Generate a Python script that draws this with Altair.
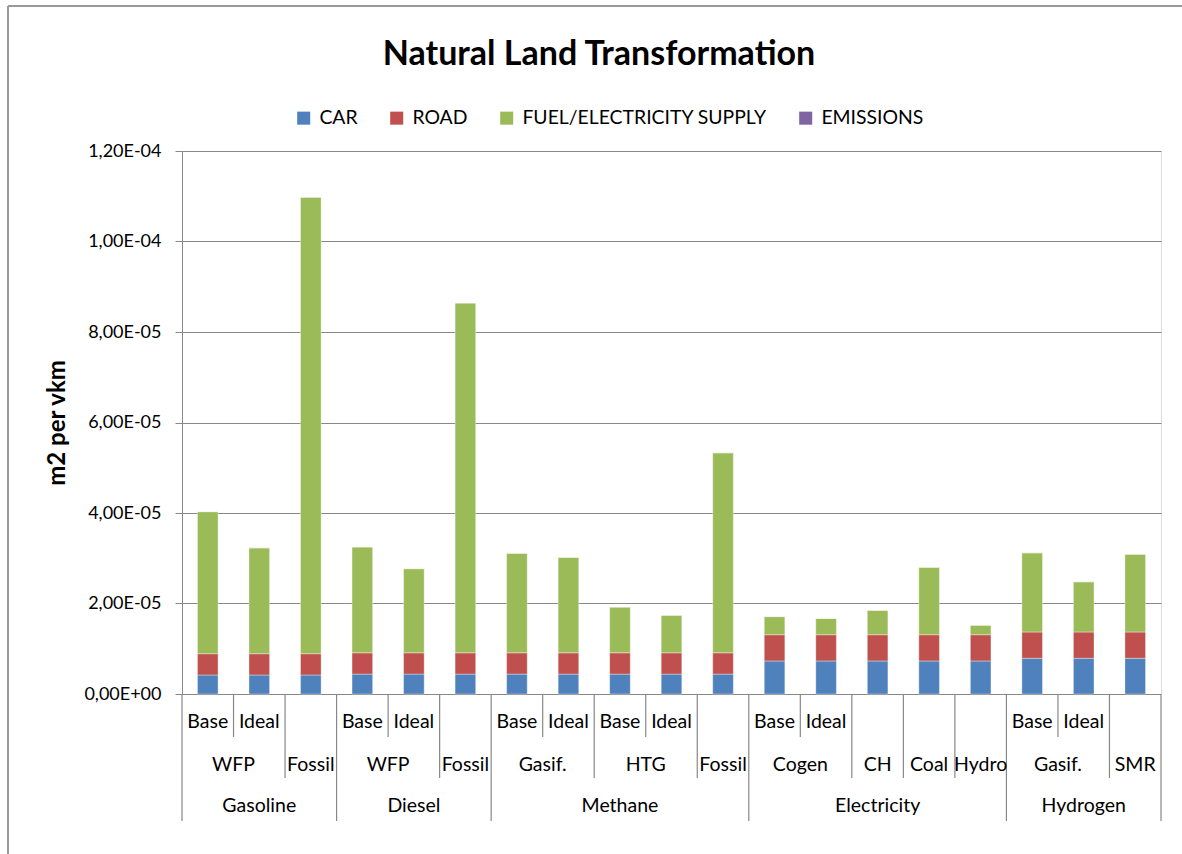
import altair as alt
import pandas as pd

# ---------------- data ----------------
chart_title = "Natural Land Transformation"
fuels = ["Gasoline"] * 3 + ["Diesel"] * 3 + ["Methane"] * 5 + ["Electricity"] * 5 + ["Hydrogen"] * 3
paths = ["WFP", "WFP", "Fossil",
         "WFP", "WFP", "Fossil",
         "Gasif.", "Gasif.", "HTG", "HTG", "Fossil",
         "Cogen", "Cogen", "CH", "Coal", "Hydro",
         "Gasif.", "Gasif.", "SMR"]
variants = ["Base", "Ideal", "",
            "Base", "Ideal", "",
            "Base", "Ideal", "Base", "Ideal", "",
            "Base", "Ideal", "", "", "",
            "Base", "Ideal", ""]

car = [0.42e-5, 0.42e-5, 0.42e-5,
       0.44e-5, 0.44e-5, 0.44e-5,
       0.44e-5, 0.44e-5, 0.44e-5, 0.44e-5, 0.44e-5,
       0.73e-5, 0.73e-5, 0.73e-5, 0.73e-5, 0.73e-5,
       0.79e-5, 0.79e-5, 0.79e-5]
road = [0.47e-5, 0.47e-5, 0.47e-5,
        0.47e-5, 0.47e-5, 0.47e-5,
        0.47e-5, 0.47e-5, 0.47e-5, 0.47e-5, 0.47e-5,
        0.58e-5, 0.58e-5, 0.58e-5, 0.58e-5, 0.58e-5,
        0.58e-5, 0.58e-5, 0.58e-5]
fuel_supply = [3.14e-5, 2.34e-5, 10.09e-5,
               2.34e-5, 1.86e-5, 7.73e-5,
               2.20e-5, 2.11e-5, 1.01e-5, 0.83e-5, 4.42e-5,
               0.40e-5, 0.36e-5, 0.54e-5, 1.49e-5, 0.21e-5,
               1.75e-5, 1.11e-5, 1.72e-5]
emissions = [0.0] * 19

series_names = ["CAR", "ROAD", "FUEL/ELECTRICITY SUPPLY", "EMISSIONS"]
series_colors = ["#4F81BD", "#C0504D", "#9BBB59", "#8064A2"]

y_ticks = [0, 2e-5, 4e-5, 6e-5, 8e-5, 1e-4, 1.2e-4]
y_tick_labels = ["0,00E+00", "2,00E-05", "4,00E-05", "6,00E-05", "8,00E-05", "1,00E-04", "1,20E-04"]

FONT = "Lato"
GRID = "#888888"
W, H = 979, 543
N = len(fuels)

# ---------------- tables ----------------
rows = []
for i in range(N):
    for k, (name, vals) in enumerate(zip(series_names, [car, road, fuel_supply, emissions])):
        rows.append({"idx": i, "series": name, "value": vals[i], "order": k})
bars_df = pd.DataFrame(rows)


def runs(keys):
    out = []
    start = 0
    for i in range(1, len(keys) + 1):
        if i == len(keys) or keys[i] != keys[start]:
            out.append((start, i, keys[start]))
            start = i
    return out


labels = []
for i, v in enumerate(variants):
    if v:
        labels.append({"xc": i + 0.5, "label": v, "row": 1})
for s, e, key in runs(list(zip(fuels, paths))):
    labels.append({"xc": (s + e) / 2, "label": key[1], "row": 2})
for s, e, key in runs(fuels):
    labels.append({"xc": (s + e) / 2, "label": key, "row": 3})
labels_df = pd.DataFrame(labels)

divs = []
for b in range(N + 1):
    if b == 0 or b == N or fuels[b] != fuels[b - 1]:
        lvl = 3
    elif paths[b] != paths[b - 1]:
        lvl = 2
    else:
        lvl = 1
    divs.append({"xb": b, "level": lvl})
divs_df = pd.DataFrame(divs)

xscale = alt.Scale(domain=[0, N], nice=False, zero=False, padding=0)
label_expr = "[" + ",".join("'%s'" % t for t in y_tick_labels) + "][round(datum.value * 50000)]"

# ---------------- layers ----------------
bars = alt.Chart(bars_df).transform_stack(
    stack="value", groupby=["idx"], as_=["v0", "v1"], sort=[alt.SortField("order")]
).transform_calculate(
    xl="datum.idx + 0.3", xr="datum.idx + 0.7"
).mark_bar(stroke="white", strokeWidth=0.6, strokeOpacity=0.6).encode(
    x=alt.X("xl:Q", scale=xscale, axis=None),
    x2="xr:Q",
    y=alt.Y("v0:Q", scale=alt.Scale(domain=[0, 1.2e-4], nice=False),
            axis=alt.Axis(values=y_ticks, labelExpr=label_expr, title="m2 per vkm",
                          titleFont=FONT, titleFontSize=24, titleFontWeight="bold",
                          titleColor="black", titlePadding=14,
                          labelFont=FONT, labelFontSize=18, labelColor="black",
                          labelPadding=14, tickSize=7, tickColor=GRID,
                          domainColor=GRID, gridColor=GRID, gridWidth=1)),
    y2="v1:Q",
    color=alt.Color("series:N", scale=alt.Scale(domain=series_names, range=series_colors),
                    legend=alt.Legend(title=None, orient="none", direction="horizontal",
                                      legendX=112, legendY=-43, symbolType="square",
                                      symbolSize=170, symbolStrokeWidth=0,
                                      labelFont=FONT, labelFontSize=19.4, labelColor="black",
                                      labelOffset=6, columnPadding=29, labelLimit=0)),
    order=alt.Order("order:Q"),
)

texts = alt.Chart(labels_df).transform_calculate(
    ypix="datum.row == 1 ? 571 : (datum.row == 2 ? 614 : 655)"
).mark_text(font=FONT, fontSize=19.5, color="black", baseline="middle").encode(
    x=alt.X("xc:Q", scale=xscale, axis=None),
    y=alt.Y("ypix:Q", scale=None),
    text="label:N",
)

dividers = alt.Chart(divs_df).transform_calculate(
    ytop="543",
    ybot="datum.level == 1 ? 586 : (datum.level == 2 ? 627 : 670)"
).mark_rule(color=GRID, strokeWidth=1.2).encode(
    x=alt.X("xb:Q", scale=xscale, axis=None),
    y=alt.Y("ytop:Q", scale=None),
    y2="ybot:Q",
)

title_mark = alt.Chart(pd.DataFrame({"t": [chart_title]})).mark_text(
    font=FONT, fontSize=34, fontWeight="bold", color="black", baseline="middle", align="center"
).encode(x=alt.value(417), y=alt.value(-96), text="t:N")

frame_left = alt.Chart(pd.DataFrame({"a": [0]})).mark_rule(color="#999999", strokeWidth=2).encode(
    x=alt.value(-174), y=alt.value(-145), y2=alt.value(720)
)
frame_top = alt.Chart(pd.DataFrame({"a": [0]})).mark_rule(color="#999999", strokeWidth=2).encode(
    x=alt.value(-174), x2=alt.value(1010), y=alt.value(-145)
)

chart = alt.layer(frame_left, frame_top, bars, dividers, texts, title_mark).properties(
    width=W, height=H,
    autosize=alt.AutoSizeParams(type="none"),
    padding={"left": 182, "top": 151, "right": 21, "bottom": 160},
).configure_view(stroke=None).configure(background="white")

chart.save("out.html", embed_options={"renderer": "svg", "actions": False})
